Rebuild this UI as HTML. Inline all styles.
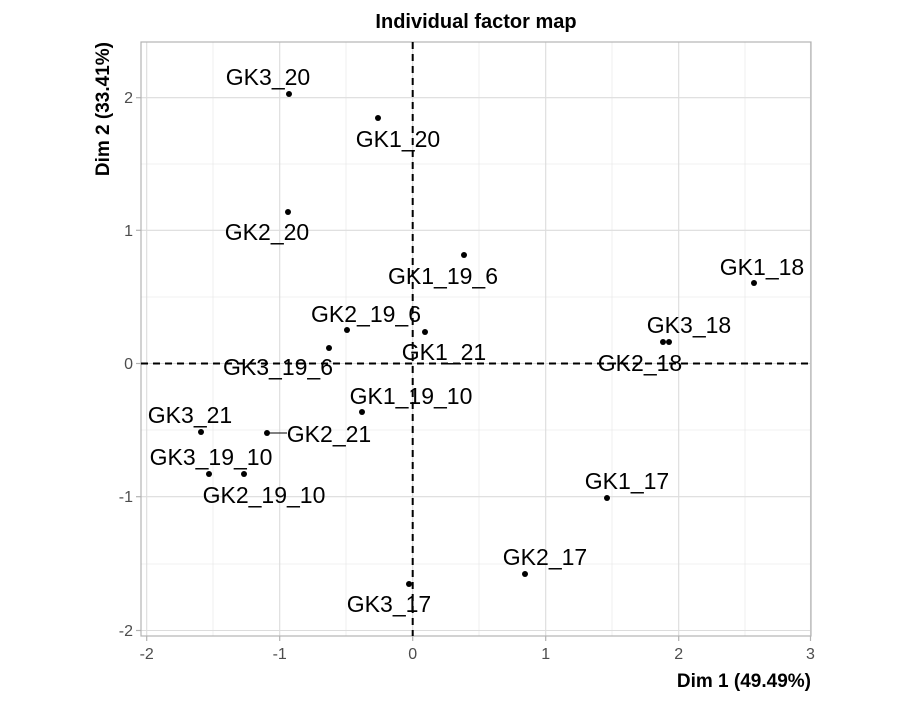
<!DOCTYPE html>
<html><head><style>body{margin:0;background:#fff}</style></head><body>
<svg width="904" height="700" xmlns="http://www.w3.org/2000/svg" font-family="Liberation Sans, Arial, sans-serif">
<rect width="904" height="700" fill="#fff"/>
<g stroke="#ebebeb" stroke-width="0.8">
<line x1="213" y1="42" x2="213" y2="636"/><line x1="346" y1="42" x2="346" y2="636"/><line x1="479" y1="42" x2="479" y2="636"/><line x1="612" y1="42" x2="612" y2="636"/><line x1="745" y1="42" x2="745" y2="636"/>
<line x1="141" y1="564" x2="811" y2="564"/><line x1="141" y1="430" x2="811" y2="430"/><line x1="141" y1="297" x2="811" y2="297"/><line x1="141" y1="164" x2="811" y2="164"/>
</g>
<g stroke="#dcdcdc" stroke-width="1.1">
<line x1="146.7" y1="42" x2="146.7" y2="636"/><line x1="279.7" y1="42" x2="279.7" y2="636"/><line x1="412.7" y1="42" x2="412.7" y2="636"/><line x1="545.7" y1="42" x2="545.7" y2="636"/><line x1="678.7" y1="42" x2="678.7" y2="636"/><line x1="810.5" y1="42" x2="810.5" y2="636"/>
<line x1="141" y1="630.5" x2="811" y2="630.5"/><line x1="141" y1="496.7" x2="811" y2="496.7"/><line x1="141" y1="363.5" x2="811" y2="363.5"/><line x1="141" y1="230.3" x2="811" y2="230.3"/><line x1="141" y1="97.7" x2="811" y2="97.7"/>
</g>
<rect x="141" y="42" width="670" height="594" fill="none" stroke="#b3b3b3" stroke-width="1.2"/>
<g stroke="#b3b3b3" stroke-width="1.2">
<line x1="146.7" y1="636" x2="146.7" y2="641"/><line x1="279.7" y1="636" x2="279.7" y2="641"/><line x1="412.7" y1="636" x2="412.7" y2="641"/><line x1="545.7" y1="636" x2="545.7" y2="641"/><line x1="678.7" y1="636" x2="678.7" y2="641"/><line x1="810.5" y1="636" x2="810.5" y2="641"/>
<line x1="136" y1="630.5" x2="141" y2="630.5"/><line x1="136" y1="496.7" x2="141" y2="496.7"/><line x1="136" y1="363.5" x2="141" y2="363.5"/><line x1="136" y1="230.3" x2="141" y2="230.3"/><line x1="136" y1="97.7" x2="141" y2="97.7"/>
</g>
<g stroke="#000" stroke-width="2" stroke-dasharray="7,5">
<line x1="141" y1="363.5" x2="811" y2="363.5"/><line x1="412.7" y1="42" x2="412.7" y2="636"/>
</g>
<g font-size="16" fill="#4d4d4d" text-anchor="middle">
<text x="146.7" y="659">-2</text><text x="279.7" y="659">-1</text><text x="412.7" y="659">0</text><text x="545.7" y="659">1</text><text x="678.7" y="659">2</text><text x="810.5" y="659">3</text>
</g>
<g font-size="16" fill="#4d4d4d" text-anchor="end">
<text x="133" y="636">-2</text><text x="133" y="502">-1</text><text x="133" y="369">0</text><text x="133" y="236">1</text><text x="133" y="103">2</text>
</g>
<text x="476" y="28" font-size="20" font-weight="bold" text-anchor="middle">Individual factor map</text>
<text x="811" y="687" font-size="19" font-weight="bold" text-anchor="end">Dim 1 (49.49%)</text>
<text transform="translate(109,42) rotate(-90)" font-size="19" font-weight="bold" text-anchor="end">Dim 2 (33.41%)</text>
<line x1="267" y1="433" x2="287" y2="433" stroke="#000" stroke-width="1"/>
<g fill="#000">
<circle cx="289" cy="94" r="3"/><circle cx="378" cy="118" r="3"/><circle cx="288" cy="212" r="3"/><circle cx="464" cy="255" r="3"/><circle cx="754" cy="283" r="3"/><circle cx="663" cy="342" r="3"/><circle cx="669" cy="342" r="3"/><circle cx="347" cy="330" r="3"/><circle cx="425" cy="332" r="3"/><circle cx="329" cy="348" r="3"/><circle cx="362" cy="412" r="3"/><circle cx="201" cy="432" r="3"/><circle cx="267" cy="433" r="3"/><circle cx="209" cy="474" r="3"/><circle cx="244" cy="474" r="3"/><circle cx="607" cy="498" r="3"/><circle cx="525" cy="574" r="3"/><circle cx="409" cy="584" r="3"/>
</g>
<g font-size="23" fill="#000" text-anchor="middle">
<text x="268" y="85">GK3_20</text><text x="398" y="147">GK1_20</text><text x="267" y="240">GK2_20</text><text x="443" y="284">GK1_19_6</text><text x="762" y="275">GK1_18</text><text x="689" y="333">GK3_18</text><text x="640" y="371">GK2_18</text><text x="366" y="322">GK2_19_6</text><text x="444" y="360">GK1_21</text><text x="278" y="375">GK3_19_6</text><text x="411" y="404">GK1_19_10</text><text x="190" y="423">GK3_21</text><text x="329" y="442">GK2_21</text><text x="211" y="465">GK3_19_10</text><text x="264" y="503">GK2_19_10</text><text x="627" y="489">GK1_17</text><text x="545" y="565">GK2_17</text><text x="389" y="612">GK3_17</text>
</g>
</svg>
</body></html>
